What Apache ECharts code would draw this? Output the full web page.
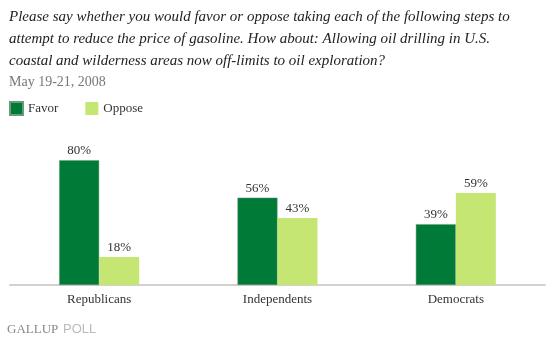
<!DOCTYPE html>
<html><head><meta charset="utf-8">
<script src="https://cdn.jsdelivr.net/npm/echarts@6/dist/echarts.min.js"></script>
<style>html,body{margin:0;padding:0;background:#fff}#c{width:553px;height:342px}</style>
</head><body><div id="c"></div>
<script>
var categories = ['Republicans', 'Independents', 'Democrats'];
var favor = [80, 56, 39];
var oppose = [18, 43, 59];
var seriesNames = ['Favor', 'Oppose'];
var titleLines = [
  'Please say whether you would favor or oppose taking each of the following steps to',
  'attempt to reduce the price of gasoline. How about: Allowing oil drilling in U.S.',
  'coastal and wilderness areas now off-limits to oil exploration?'
];
var dateText = 'May 19-21, 2008';

var serif = '"Liberation Serif", "Times New Roman", serif';
var chart = echarts.init(document.getElementById('c'));
var label = {show: true, position: 'top', distance: 3, formatter: '{c}%', color: '#333', fontFamily: serif, fontSize: 13};
chart.setOption({
  animation: false,
  legend: {
    left: 4, top: 96, itemWidth: 13, itemHeight: 13, itemGap: 27,
    icon: 'rect',
    textStyle: {fontFamily: serif, fontSize: 13, color: '#333'},
    data: seriesNames
  },
  graphic: [
    {type: 'text', left: 9, top: 6, style: {text: titleLines.join('\n'), font: 'italic 15px ' + serif, fill: '#222', lineHeight: 22}},
    {type: 'text', left: 9, top: 75, style: {text: dateText, font: '14px ' + serif, fill: '#777'}},
    {type: 'text', left: 7, top: 323, style: {text: 'GALLUP', font: '13px ' + serif, fill: '#888'}},
    {type: 'text', left: 63, top: 323, style: {text: 'POLL', font: '13px "Liberation Sans", Arial, sans-serif', fill: '#bbb'}}
  ],
  grid: {left: 10, right: 8, top: 129, bottom: 57, containLabel: false},
  xAxis: {
    type: 'category', data: categories,
    axisLine: {lineStyle: {color: '#d2d2cc', width: 2}},
    axisTick: {show: false},
    axisLabel: {color: '#333', fontFamily: serif, fontSize: 13, margin: 8}
  },
  yAxis: {type: 'value', min: 0, max: 100, show: false, splitLine: {show: false}},
  series: [
    {name: seriesNames[0], type: 'bar', data: favor, barWidth: 40, barGap: '0%',
     itemStyle: {color: '#007a37', borderColor: '#6a9a7a', borderWidth: 0.5}, label: label},
    {name: seriesNames[1], type: 'bar', data: oppose, barWidth: 40,
     itemStyle: {color: '#c6e673'}, label: label}
  ]
});
</script></body></html>
